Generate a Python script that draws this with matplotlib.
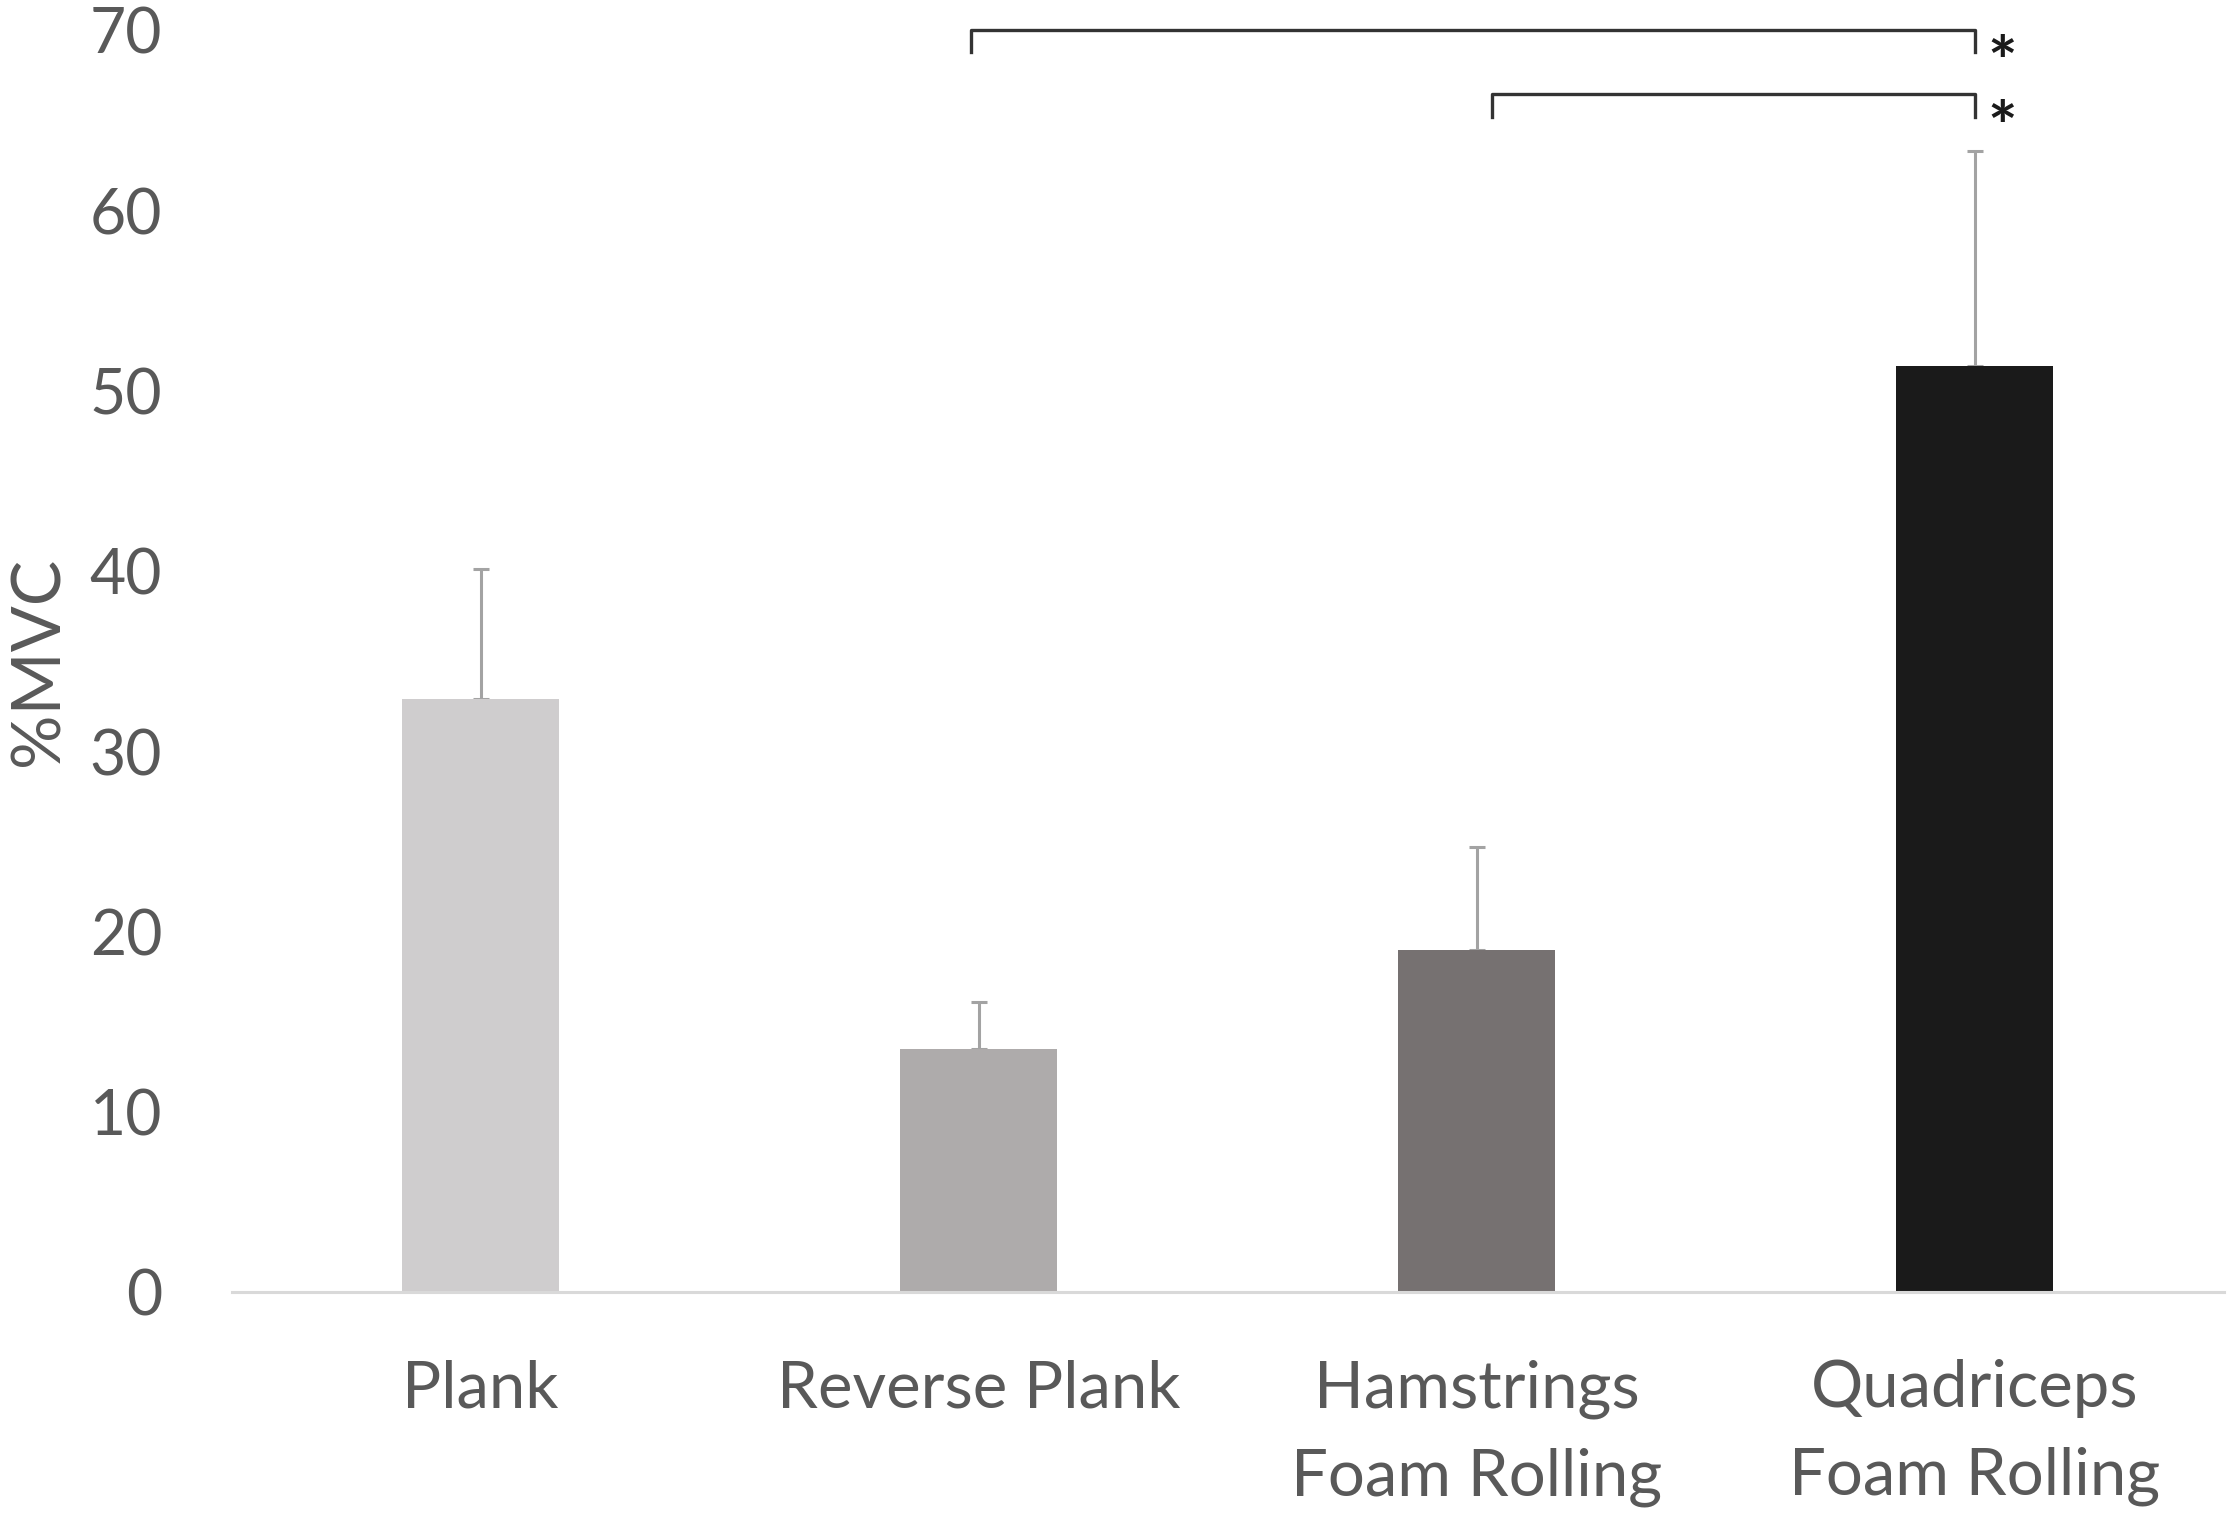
import numpy as np
import matplotlib.pyplot as plt

# data
categories = ['Plank', 'Reverse Plank', 'Hamstrings\nFoam Rolling', 'Quadriceps\nFoam Rolling']
mvc_means = [32.9, 13.5, 19.0, 51.4]
mvc_sd = [7.2, 2.6, 5.7, 11.9]
bar_colors = ['#cfcdce', '#aeabab', '#767171', '#1a1a1a']
y_ticks = [0, 10, 20, 30, 40, 50, 60, 70]

# significance brackets: (left x, right x, bar height, tick bottom)
brackets = [(0.985, 3.0, 70.0, 68.8), (2.03, 3.0, 66.5, 65.2)]

text_gray = '#595959'
plt.rcParams['font.family'] = ['Lato', 'DejaVu Sans']

fig = plt.figure(figsize=(22.28, 15.24), dpi=100)
ax = fig.add_axes([0.104, 0.152, 0.894, 0.828])

x = np.arange(len(categories))
ax.bar(x, mvc_means, width=0.315, color=bar_colors, zorder=2)
ax.errorbar(x, mvc_means, yerr=[np.zeros(len(x)), mvc_sd], fmt='none',
            ecolor='#a3a3a3', elinewidth=2.2, capsize=6, capthick=2.2, zorder=1)

ax.set_xlim(-0.5, 3.5)
ax.set_ylim(0, 70)
ax.set_yticks(y_ticks)
ax.set_xticks(x)
ax.set_xticklabels(categories, fontsize=47, color=text_gray, linespacing=1.6)
ax.tick_params(axis='y', length=0, pad=50, labelsize=45, labelcolor=text_gray)
ax.tick_params(axis='x', length=0, pad=48)

for side in ['top', 'right', 'left']:
    ax.spines[side].set_visible(False)
ax.spines['bottom'].set_color('#d9d9d9')
ax.spines['bottom'].set_linewidth(2.2)

fig.text(40 / 2228, 0.5 * (0.152 + 0.980), '%MVC', rotation=90, ha='center', va='center',
         fontsize=49, color=text_gray)

# brackets with stars
for x0, x1, top, bottom in brackets:
    ax.plot([x0, x0, x1, x1], [bottom, top, top, bottom], color='#333333',
            linewidth=2.4, clip_on=False, zorder=4)
    ax.text(x1 + 0.055, bottom - 1.9, '*', ha='center', va='baseline', fontsize=50,
            fontweight='bold', color='#1a1a1a', clip_on=False)

fig.savefig('out.png', dpi=100, facecolor='white')
